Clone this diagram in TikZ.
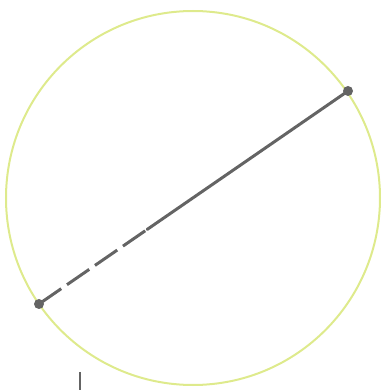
\documentclass[tikz,border=0pt]{standalone}
\usepackage{tikz}
\usetikzlibrary{calc}
\definecolor{ringyellow}{RGB}{222,234,140}
\definecolor{chordgray}{RGB}{100,100,100}

\begin{document}
\begin{tikzpicture}[x=1pt,y=1pt,
   ring/.style={circle,draw=ringyellow,line width=2pt,inner sep=0pt,minimum size=374pt},
   chord/.style={draw=chordgray,line width=3pt,line cap=round},
   endpt/.style={circle,fill=chordgray,inner sep=0pt,minimum size=10pt}]
  \useasboundingbox (0,0) rectangle (382,392);
  \node[ring] (o) at (193,194) {};
  \node[endpt] (p) at (39,88) {};
  \node[endpt] (q) at (348,301) {};
  \coordinate (m) at ($(p)!0.35!(q)$);
  \draw[chord,line cap=butt,dash pattern=on 27pt off 7pt] (p.center) -- (m);
  \draw[chord] (m) -- (q.center);
  \coordinate (t1) at (80,20);
  \coordinate (t2) at (80,2);
  \draw[chordgray,line width=1.5pt] (t1) -- (t2);
\end{tikzpicture}
\end{document}
